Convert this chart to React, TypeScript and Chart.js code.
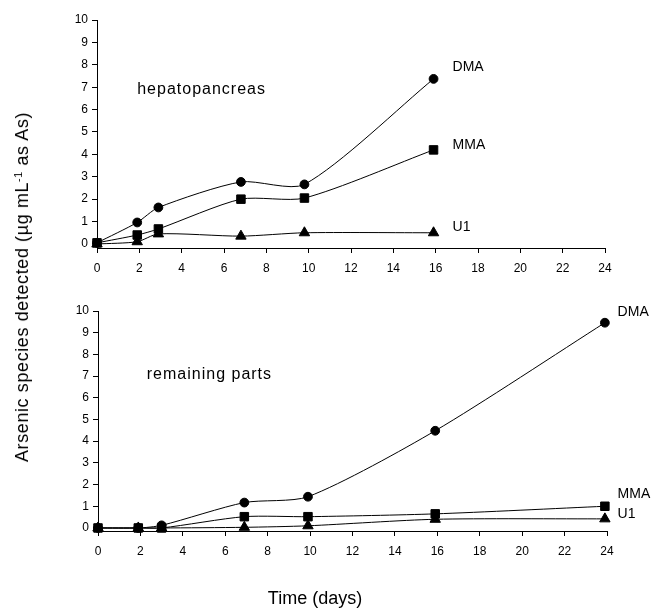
import React, { useEffect, useRef } from "react";
import { Chart, registerables } from "chart.js";

Chart.register(...registerables);

const FONT = '"Liberation Sans", Arial, sans-serif';

// Top panel: hepatopancreas
const topDays = [0, 1.9, 2.9, 6.8, 9.8, 15.9];
const topDMA = [0.05, 0.96, 1.63, 2.77, 2.66, 7.37];
const topMMA = [0.05, 0.4, 0.67, 2.0, 2.05, 4.2];
const topU1 = [0, 0.1, 0.45, 0.35, 0.5, 0.5];

// Bottom panel: remaining parts
const botDays = [0, 1.9, 3.0, 6.9, 9.9, 15.9, 23.9];
const botDMA = [0, 0, 0.12, 1.17, 1.44, 4.48, 9.46];
const botMMA = [0, 0, 0, 0.52, 0.52, 0.65, 1.0];
const botU1 = [0, 0, 0, 0.03, 0.1, 0.4, 0.42];

const yTickValues = [0, 1, 2, 3, 4, 5, 6, 7, 8, 9, 10];

const topLabels = [
  { text: "hepatopancreas", x: 1.9, y: 6.9, size: 16, spacing: 1 },
  { text: "DMA", x: 16.8, y: 7.9, size: 14, spacing: 0 },
  { text: "MMA", x: 16.8, y: 4.42, size: 14, spacing: 0 },
  { text: "U1", x: 16.8, y: 0.76, size: 14, spacing: 0 },
];
const botLabels = [
  { text: "remaining parts", x: 2.3, y: 7.05, size: 16, spacing: 1 },
  { text: "DMA", x: 24.5, y: 9.95, size: 14, spacing: 0 },
  { text: "MMA", x: 24.5, y: 1.55, size: 14, spacing: 0 },
  { text: "U1", x: 24.5, y: 0.62, size: 14, spacing: 0 },
];

function makeLabelPlugin(labels: any[]) {
  return {
    id: "panelLabels",
    afterDraw(chart: any) {
      const ctx = chart.ctx;
      const xs = chart.scales.x;
      const ys = chart.scales.y;
      ctx.save();
      labels.forEach((l) => {
        ctx.font = `${l.size}px ${FONT}`;
        (ctx as any).letterSpacing = `${l.spacing}px`;
        ctx.fillStyle = "#000";
        ctx.textAlign = "left";
        ctx.textBaseline = "middle";
        ctx.fillText(l.text, xs.getPixelForValue(l.x), ys.getPixelForValue(l.y));
      });
      ctx.restore();
    },
  };
}

function series(days: number[], vals: number[]) {
  return days.map((d, i) => ({ x: d, y: vals[i] }));
}

function ds(data: any[], style: string, radius: number) {
  return {
    data,
    borderColor: "#000",
    backgroundColor: "#000",
    borderWidth: 1,
    pointStyle: style,
    pointRadius: radius,
    pointBorderWidth: 1,
    pointBackgroundColor: "#000",
    pointBorderColor: "#000",
    tension: 0.25,
    clip: false as any,
  };
}

function makeConfig(
  days: number[],
  dma: number[],
  mma: number[],
  u1: number[],
  yMin: number,
  padding: any,
  labels: any[]
) {
  return {
    type: "line" as const,
    data: {
      datasets: [
        ds(series(days, mma), "rect", 6),
        ds(series(days, dma), "circle", 4.4),
        ds(series(days, u1), "triangle", 6),
      ],
    },
    options: {
      animation: false as const,
      responsive: false,
      devicePixelRatio: 1,
      layout: { padding },
      plugins: { legend: { display: false }, tooltip: { enabled: false } },
      scales: {
        x: {
          type: "linear" as const,
          min: 0,
          max: 24,
          grid: { drawOnChartArea: false, drawTicks: true, tickLength: 5, color: "#000" },
          border: { display: true, color: "#000", width: 1 },
          ticks: {
            stepSize: 2,
            color: "#000",
            font: { family: FONT, size: 12 },
            padding: 8,
            maxRotation: 0,
          },
          afterFit: (s: any) => {
            s.height = 24;
          },
        },
        y: {
          type: "linear" as const,
          min: yMin,
          max: 10,
          grid: { drawOnChartArea: false, drawTicks: true, tickLength: 5, color: "#000" },
          border: { display: true, color: "#000", width: 1 },
          ticks: {
            color: "#000",
            font: { family: FONT, size: 12 },
            padding: 4,
            callback: (v: any) => String(v),
          },
          afterBuildTicks: (s: any) => {
            s.ticks = yTickValues.map((v) => ({ value: v }));
          },
          afterFit: (s: any) => {
            s.width = 30;
          },
        },
      },
    },
    plugins: [makeLabelPlugin(labels)],
  };
}

export default function App() {
  const topRef = useRef<HTMLCanvasElement>(null);
  const botRef = useRef<HTMLCanvasElement>(null);

  useEffect(() => {
    const c1 = new Chart(
      topRef.current!,
      makeConfig(topDays, topDMA, topMMA, topU1, -0.18, { left: 67, right: 49, top: 20, bottom: 10 }, topLabels) as any
    );
    const c2 = new Chart(
      botRef.current!,
      makeConfig(botDays, botDMA, botMMA, botU1, -0.14, { left: 68, right: 47, top: 29, bottom: 55 }, botLabels) as any
    );
    return () => {
      c1.destroy();
      c2.destroy();
    };
  }, []);

  return (
    <div
      style={{
        position: "fixed",
        left: 0,
        top: 0,
        width: 654,
        height: 610,
        background: "#fff",
        overflow: "hidden",
        fontFamily: FONT,
        color: "#000",
      }}
    >
      <canvas
        ref={topRef}
        width={654}
        height={282}
        style={{ position: "absolute", left: 0, top: 0, width: 654, height: 282 }}
      />
      <canvas
        ref={botRef}
        width={654}
        height={328}
        style={{ position: "absolute", left: 0, top: 282, width: 654, height: 328 }}
      />
      <div
        style={{
          position: "absolute",
          left: 22,
          top: 287,
          transform: "translate(-50%, -50%) rotate(-90deg)",
          whiteSpace: "nowrap",
          fontSize: 18,
          letterSpacing: 0.6,
          lineHeight: 1,
        }}
      >
        Arsenic species detected (µg mL<sup style={{ fontSize: "0.6em", verticalAlign: "0.6em", lineHeight: 0 }}>-1</sup> as As)
      </div>
      <div
        style={{
          position: "absolute",
          left: 315,
          top: 598,
          transform: "translate(-50%, -50%)",
          whiteSpace: "nowrap",
          fontSize: 18,
          lineHeight: 1,
        }}
      >
        Time (days)
      </div>
    </div>
  );
}
